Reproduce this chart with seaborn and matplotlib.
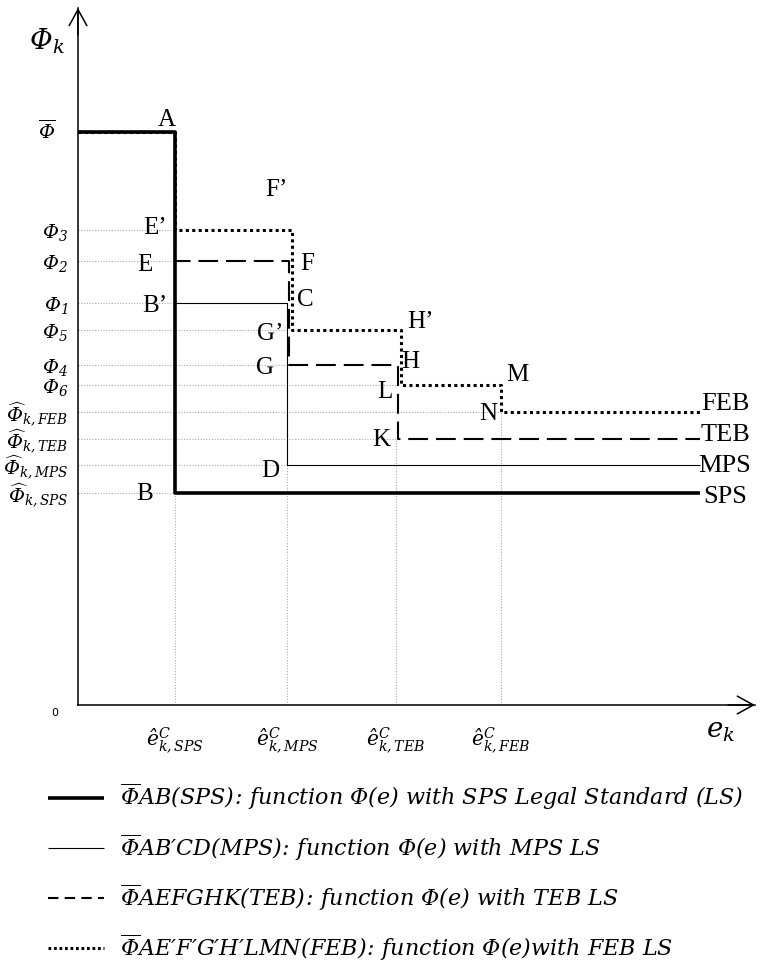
import matplotlib
matplotlib.use("Agg")
import matplotlib.pyplot as plt
import matplotlib.transforms as mtrans
import seaborn as sns
import pandas as pd

# ---------------- data (arbitrary units) ----------------
standards = ["SPS", "MPS", "TEB", "FEB"]
e_hat = [0.97, 2.09, 3.18, 4.23]          # critical effort levels ê^C_{k,.}
e_end = 6.22                               # right end of the curves
phi_bar = 5.73
phi_names = ["Phi3", "Phi2", "Phi1", "Phi5", "Phi4", "Phi6"]
phi_vals = [4.75, 4.44, 4.02, 3.75, 3.40, 3.20]
phi_hat = [2.12, 2.40, 2.66, 2.93]         # Φ̂_{k,SPS}, MPS, TEB, FEB

P = dict(zip(phi_names, phi_vals))
E = dict(zip(standards, e_hat))
H = dict(zip(standards, phi_hat))

# intermediate plateaus for each standard (between ê_SPS and its own ê)
plateaus = {
    "SPS": [],
    "MPS": [P["Phi1"]],
    "TEB": [P["Phi2"], P["Phi4"]],
    "FEB": [P["Phi3"], P["Phi5"], P["Phi6"]],
}

legend_labels = [
    r"$\overline{\Phi}AB(SPS)\!:\,function\ \Phi(e)\ with\ SPS\ Legal\ Standard\ (LS)$",
    r"$\overline{\Phi}AB′CD(MPS)\!:\,function\ \Phi(e)\ with\ MPS\ LS$",
    r"$\overline{\Phi}AEFGHK(TEB)\!:\,function\ \Phi(e)\ with\ TEB\ LS$",
    r"$\overline{\Phi}AE′F′G′H′LMN(FEB)\!:\,function\ \Phi(e)with\ FEB\ LS$",
]

# ---------------- styling ----------------
sns.set_theme(style="white")
plt.rcParams["font.family"] = ["Liberation Serif", "DejaVu Serif"]
plt.rcParams["mathtext.fontset"] = "custom"
plt.rcParams["mathtext.rm"] = "DejaVu Serif:italic"
plt.rcParams["mathtext.it"] = "DejaVu Serif:italic"
plt.rcParams["mathtext.cal"] = "DejaVu Serif:italic"
for k in ["text.color", "xtick.color", "ytick.color", "axes.labelcolor"]:
    plt.rcParams[k] = "black"

W, Hh = 760, 967
fig = plt.figure(figsize=(W / 100, Hh / 100), dpi=100)
ax = fig.add_axes([78 / W, (Hh - 705) / Hh, 677 / W, 697 / Hh])
ax.set_xlim(0, 6.77)
ax.set_ylim(0, 6.97)

styles = {
    "SPS": dict(color="black", lw=2.6, linestyle="-"),
    "MPS": dict(color="black", lw=0.8, linestyle="-"),
    "TEB": dict(color="black", lw=1.5, linestyle=(0, (9.5, 3.8))),
    "FEB": dict(color="black", lw=2.2, linestyle=(0, (1, 1.1))),
}
# small visual shift of coincident verticals so they stay distinguishable
shift = {"SPS": 0.0, "MPS": 0.0, "TEB": 0.015, "FEB": 0.05}

grid_kw = dict(color="#aaaaaa", lw=0.8, linestyle=(0, (1, 1.5)), zorder=1)

# ---------------- reference (grid) lines ----------------
for name in ["Phi3", "Phi2", "Phi1"]:
    ax.plot([0, E["SPS"]], [P[name]] * 2, **grid_kw)
for name in ["Phi5", "Phi4"]:
    ax.plot([0, E["MPS"]], [P[name]] * 2, **grid_kw)
ax.plot([0, E["TEB"]], [P["Phi6"]] * 2, **grid_kw)
for s in standards:
    ax.plot([0, E[s]], [H[s]] * 2, **grid_kw)
    ax.plot([E[s]] * 2, [0, H[s]], **grid_kw)

# ---------------- step curves ----------------
handles = []
for i, s in enumerate(standards):
    levels = plateaus[s] + [H[s]]
    bx = [0, E["SPS"]] + [E[t] + (shift[s] if t in ("MPS", "TEB") else 0)
                          for t in standards[1:len(levels)]] + [e_end]
    by = [phi_bar] + levels + [levels[-1]]
    df = pd.DataFrame({"e": bx, "phi": by})
    sns.lineplot(data=df, x="e", y="phi", ax=ax, estimator=None, sort=False,
                 drawstyle="steps-post", legend=False, label=legend_labels[i],
                 solid_capstyle="butt", dash_capstyle="butt", zorder=3 + i,
                 **styles[s])
    handles.append(ax.get_lines()[-1])
if ax.get_legend() is not None:
    ax.get_legend().remove()

# ---------------- axes ----------------
for sp in ["top", "right"]:
    ax.spines[sp].set_visible(False)
for sp in ["left", "bottom"]:
    ax.spines[sp].set_color("black")
    ax.spines[sp].set_linewidth(1.1)
arrow_kw = dict(arrowstyle="->,head_length=0.58,head_width=0.32",
                lw=1.1, color="black", mutation_scale=20, shrinkA=0, shrinkB=0)
ax.annotate("", xy=(6.77, 0), xytext=(6.5, 0), annotation_clip=False, arrowprops=arrow_kw)
ax.annotate("", xy=(0, 6.97), xytext=(0, 6.7), annotation_clip=False, arrowprops=arrow_kw)

ytick_vals = [phi_bar] + phi_vals + phi_hat[::-1]
ytick_labels = [r"$\overline{\Phi}$", r"$\Phi_3$", r"$\Phi_2$", r"$\Phi_1$",
                r"$\Phi_5$", r"$\Phi_4$", r"$\Phi_6$",
                r"$\widehat{\Phi}_{k,FEB}$", r"$\widehat{\Phi}_{k,TEB}$",
                r"$\widehat{\Phi}_{k,MPS}$", r"$\widehat{\Phi}_{k,SPS}$"]
ax.set_yticks(ytick_vals, ytick_labels, fontsize=14)
ax.set_xticks(e_hat, [r"$\hat{e}^{C}_{k,%s}$" % s for s in standards], fontsize=14.5)
ax.tick_params(axis="y", length=0, pad=7)
ax.tick_params(axis="x", length=0, pad=15)
ax.set_xlabel("")
ax.set_ylabel("")
# the Φ̄ label sits a little further left than the others
bar_lbl = ax.get_yticklabels()[0]
bar_lbl.set_transform(bar_lbl.get_transform() +
                      mtrans.ScaledTranslation(-0.12, 0.03, fig.dpi_scale_trans))

ax.text(-0.31, 6.64, r"$\Phi_k$", fontsize=20, ha="center", va="center")
ax.text(6.43, -0.26, r"$e_k$", fontsize=20, ha="center", va="center")
ax.text(-0.23, -0.08, "0", fontsize=8, ha="center", va="center", family="DejaVu Sans")

# ---------------- point letters ----------------
pts = [
    ("A", E["SPS"], phi_bar, -8, 12),
    ("E\u2019", E["SPS"], P["Phi3"], -20, 2),
    ("E", E["SPS"], P["Phi2"], -30, -4),
    ("B\u2019", E["SPS"], P["Phi1"], -20, -3),
    ("B", E["SPS"], H["SPS"], -30, -1),
    ("F\u2019", E["MPS"], P["Phi3"], -11, 40),
    ("F", E["MPS"], P["Phi2"], 20, -3),
    ("C", E["MPS"], P["Phi1"], 18, 3),
    ("G\u2019", E["MPS"], P["Phi5"], -17, -4),
    ("G", E["MPS"], P["Phi4"], -22, -3),
    ("D", E["MPS"], H["MPS"], -17, -6),
    ("H\u2019", E["TEB"], P["Phi5"], 24, 8),
    ("H", E["TEB"], P["Phi4"], 14, 3),
    ("L", E["TEB"], P["Phi6"], -11, -7),
    ("K", E["TEB"], H["TEB"], -15, -1),
    ("M", E["FEB"], P["Phi6"], 16, 10),
    ("N", E["FEB"], H["FEB"], -13, -2),
]
for lab, x, y, dx, dy in pts:
    ax.annotate(lab, (x, y), xytext=(dx * 0.72, dy * 0.72), textcoords="offset points",
                ha="center", va="center", fontsize=18, annotation_clip=False)

end_offsets = {"FEB": 8, "TEB": 4, "MPS": -1, "SPS": -4}
for s in standards:
    ax.annotate(s, (e_end, H[s]), xytext=(25 * 0.72, end_offsets[s] * 0.72),
                textcoords="offset points", ha="center", va="center", fontsize=19,
                annotation_clip=False)

# ---------------- legend ----------------
leg = fig.legend(handles, legend_labels, loc="upper left",
                 bbox_to_anchor=(48 / W, 1 - 782 / Hh), frameon=False, fontsize=16,
                 handlelength=2.52, handletextpad=0.72, labelspacing=0.88,
                 borderpad=0, borderaxespad=0)
leg_lines = leg.get_lines()
leg_lines[2].set_linestyle((0, (5, 3)))
leg_lines[3].set_linestyle((0, (0.9, 0.9)))

fig.savefig("out.png", dpi=100)
